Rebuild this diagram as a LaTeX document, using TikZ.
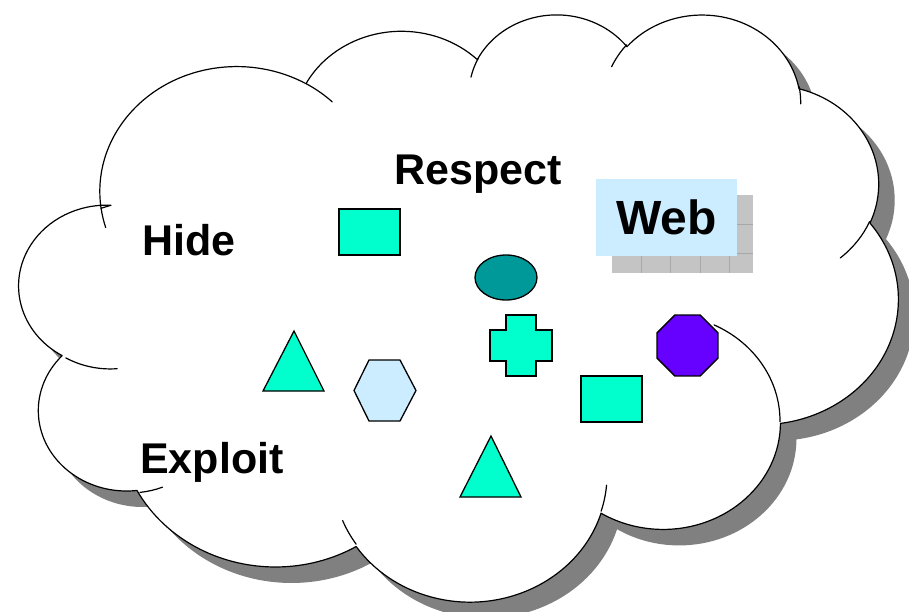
\documentclass[tikz,border=0pt]{standalone}
\usepackage{fontspec}
\setmainfont{Liberation Sans}
\usetikzlibrary{shapes.geometric}
\definecolor{aqua}{RGB}{0,255,204}
\definecolor{tealc}{RGB}{0,153,153}
\definecolor{purplec}{RGB}{102,0,255}
\definecolor{paleblue}{RGB}{204,236,255}
\definecolor{shadowgray}{RGB}{128,128,128}
\definecolor{texgray}{RGB}{196,196,196}
\definecolor{texline}{RGB}{168,168,168}
% elliptical arc of the cloud: style name, x radius, y radius, start angle, sweep (visual angles)
\newcommand\cldcalc[5]{%
  \pgfmathsetmacro\cldtmpA{atan2((#2)*sin(#4),(#3)*cos(#4))}%
  \pgfmathsetmacro\cldtmpB{atan2((#2)*sin((#4)+(#5)),(#3)*cos((#4)+(#5)))}%
  \pgfmathsetmacro\cldtmpD{mod(\cldtmpB-\cldtmpA+720,360)}%
  \edef\cldtmp{\noexpand\tikzset{#1/.style={start angle=\cldtmpA, delta angle=\cldtmpD, x radius=#2, y radius=#3}}}%
  \cldtmp}
\cldcalc{lobeA}{67.53}{91.90}{-190.4875}{123.7805}
\cldcalc{lobeB}{53.33}{72.67}{-144.1024}{89.9452}
\cldcalc{lobeC}{43.65}{59.45}{-145.8079}{99.7230}
\cldcalc{lobeD}{48.57}{65.95}{-130.9861}{117.2417}
\cldcalc{lobeE}{53.33}{72.73}{-78.7089}{109.0269}
\cldcalc{lobeF}{67.75}{92.20}{-46.2673}{130.2690}
\cldcalc{lobeG}{57.85}{78.67}{0.6250}{114.0333}
\cldcalc{lobeH}{67.52}{92.15}{22.4516}{115.1726}
\cldcalc{lobeI}{77.20}{105.43}{66.2426}{78.0491}
\cldcalc{lobeJ}{43.60}{59.18}{-274.9421}{146.7356}
\cldcalc{lobeK}{43.45}{59.45}{-246.8285}{158.8807}
\cldcalc{tailA}{43.45}{59.45}{86.7420}{26.4295}
\cldcalc{tailB}{43.60}{59.18}{73.6105}{11.4475}
\cldcalc{tailC}{67.52}{92.15}{137.6242}{14.0811}
\cldcalc{tailD}{67.52}{92.15}{6.4533}{15.9984}
\cldcalc{tailE}{57.85}{78.67}{-70.2924}{70.9174}
\cldcalc{tailF}{53.33}{72.73}{30.3180}{27.7515}
\cldcalc{tailG}{48.57}{65.95}{-13.7443}{14.8589}
\cldcalc{tailH}{48.57}{65.95}{-149.1815}{18.1954}
\cldcalc{tailI}{43.65}{59.45}{-163.4943}{17.6864}
\cldcalc{tailJ}{67.53}{91.90}{-66.7070}{12.3194}
\cldcalc{tailK}{67.53}{91.90}{157.6544}{11.8582}
\def\cldpath{(39.00,143.70) arc[lobeA] arc[lobeB] arc[lobeC] arc[lobeD] arc[lobeE] arc[lobeF] arc[lobeG] arc[lobeH] arc[lobeI] arc[lobeJ] arc[lobeK] -- cycle}
\begin{document}
\begin{tikzpicture}[x=1pt,y=-1pt,
  cloudframe/.style={shift={(22,13)},x=2.02778pt,y=-1.35880pt},
  cloudline/.style={draw=black,line width=1.2pt,line join=round,line cap=round},
  shapeline/.style={draw=black,line width=1.3pt},
  wordtext/.style={font=\fontsize{43}{51}\selectfont\bfseries,anchor=base west,inner sep=0pt},
  boxshape/.style={rectangle,shapeline,fill=aqua,minimum width=61pt,minimum height=46pt,inner sep=0pt}]
\useasboundingbox (0,0) rectangle (909,612);
\fill[white] (0,0) rectangle (909,612);
% cloud shadow
\begin{scope}[cloudframe,xshift=16pt,yshift=-16pt]
  \fill[shadowgray] \cldpath;
\end{scope}
% cloud
\begin{scope}[cloudframe]
  \fill[white] \cldpath;
  \draw[cloudline] \cldpath;
  \draw[cloudline] (46.93,261.77) arc[tailA];
  \draw[cloudline] (69.28,348.99) arc[tailB];
  \draw[cloudline] (164.78,390.90) arc[tailC];
  \draw[cloudline] (288.27,347.51) arc[tailD];
  \draw[cloudline] (341.29,229.54) arc[tailE];
  \draw[cloudline] (417.98,153.54) arc[tailF];
  \draw[cloudline] (383.24,54.26) arc[tailG];
  \draw[cloudline] (290.78,39.52) arc[tailH];
  \draw[cloudline] (221.41,47.20) arc[tailI];
  \draw[cloudline] (140.00,51.92) arc[tailJ];
  \draw[cloudline] (41.27,157.89) arc[tailK];
\end{scope}
% Web box with textured shadow
\node[fill=texgray,minimum width=141pt,minimum height=78pt,inner sep=0pt] (webshadow) at (682.5,234) {};
\foreach \gx in {641,670,700,729} \draw[texline,line width=0.8pt] (\gx,195) -- (\gx,273);
\foreach \gy in {224,253} \draw[texline,line width=0.8pt] (612,\gy) -- (753,\gy);
\node[fill=paleblue,minimum width=141pt,minimum height=77pt,inner sep=0pt,font=\fontsize{48}{57}\selectfont\bfseries] (web) at (666.5,217.5) {Web};
% shapes
\node[boxshape] (sq1) at (369.5,232) {};
\node[boxshape] (sq2) at (611.5,399) {};
\node[ellipse,shapeline,fill=tealc,minimum width=62pt,minimum height=45pt,inner sep=0pt] (oval) at (506,277.5) {};
\node[regular polygon,regular polygon sides=8,shapeline,fill=purplec,minimum size=66pt,inner sep=0pt] (octa) at (687.5,345.5) {};
\draw[shapeline,fill=aqua] (506,315) -- (536,315) -- (536,330) -- (552,330) -- (552,361) -- (536,361) -- (536,376) -- (506,376) -- (506,361) -- (490,361) -- (490,330) -- (506,330) -- cycle;
\draw[shapeline,fill=aqua] (294,331) -- (324,391) -- (263,391) -- cycle;
\draw[shapeline,fill=aqua] (491,436) -- (521,497) -- (460,497) -- cycle;
\draw[shapeline,fill=paleblue] (354,390.5) -- (369,360) -- (400,360) -- (416,390.5) -- (400,421) -- (369,421) -- cycle;
% words
\node[wordtext] (respect) at (394,185) {Respect};
\node[wordtext] (hide) at (142,255) {Hide};
\node[wordtext] (exploit) at (140,473) {Exploit};
\end{tikzpicture}
\end{document}
